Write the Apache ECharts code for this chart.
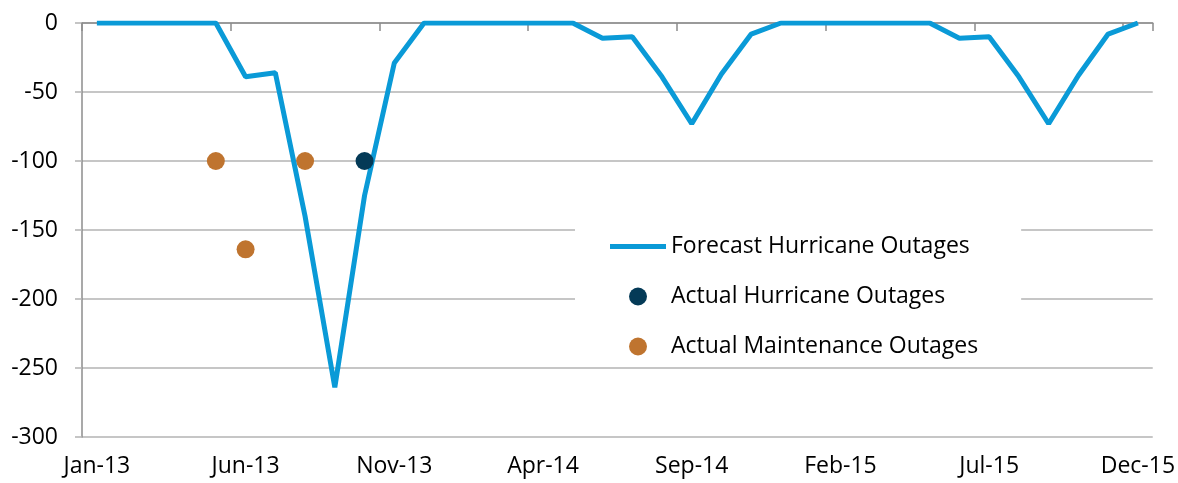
<!DOCTYPE html>
<html>
<head>
<meta charset="utf-8">
<script src="https://cdn.jsdelivr.net/npm/echarts@6/dist/echarts.min.js"></script>
<style>
  html, body { margin: 0; padding: 0; background: #fff; }
  #chart { width: 1178px; height: 483px; }
</style>
</head>
<body>
<div id="chart"></div>
<script>
// month categories
const months = [
  'Jan-13', 'Feb-13', 'Mar-13', 'Apr-13', 'May-13', 'Jun-13', 'Jul-13', 'Aug-13', 'Sep-13', 'Oct-13', 'Nov-13', 'Dec-13',
  'Jan-14', 'Feb-14', 'Mar-14', 'Apr-14', 'May-14', 'Jun-14', 'Jul-14', 'Aug-14', 'Sep-14', 'Oct-14', 'Nov-14', 'Dec-14',
  'Jan-15', 'Feb-15', 'Mar-15', 'Apr-15', 'May-15', 'Jun-15', 'Jul-15', 'Aug-15', 'Sep-15', 'Oct-15', 'Nov-15', 'Dec-15'
]

// forecast hurricane outages (line)
const forecastValues = [
  0, 0, 0, 0, 0, -39, -36, -140, -264, -125, -29, 0,
  0, 0, 0, 0, 0, -11, -10, -39, -73, -37, -8, 0,
  0, 0, 0, 0, 0, -11, -10, -39, -73, -38, -8, 0
]

// actual outages (dots)
const hurricaneMonths = ['Oct-13']
const hurricaneValues = [-100]
const maintenanceMonths = ['May-13', 'Jun-13', 'Aug-13']
const maintenanceValues = [-100, -164, -100]

const yTicks = { min: -300, max: 0, step: 50 }

const FONT = 'Open Sans'
const chart = echarts.init(document.getElementById('chart'))

const option = {
  animation: false,
  backgroundColor: '#fff',
  textStyle: { fontFamily: FONT },
  grid: { left: 82, right: 23, top: 23, bottom: 46 },
  legend: {
    orient: 'vertical',
    left: 575,
    top: 223,
    backgroundColor: '#fff',
    padding: [12, 43, 9, 35],
    itemWidth: 56,
    itemHeight: 18,
    itemGap: 27,
    textStyle: { fontFamily: FONT, fontSize: 23, color: '#000' },
    data: [
      { name: 'Forecast Hurricane Outages', icon: 'path://M0,0h56v5h-56z' },
      { name: 'Actual Hurricane Outages', icon: 'circle' },
      { name: 'Actual Maintenance Outages', icon: 'circle' }
    ]
  },
  xAxis: [
    {
      // axis line + ticks along the zero line (top)
      type: 'category',
      data: months,
      position: 'top',
      boundaryGap: true,
      axisLine: { onZero: false, lineStyle: { color: '#8c8c8c', width: 1.5 } },
      axisTick: { show: true, inside: true, interval: 4, length: 8, lineStyle: { color: '#8c8c8c', width: 1.5 } },
      axisLabel: { show: false },
      splitLine: { show: false }
    },
    {
      // labels at the bottom
      type: 'category',
      data: months,
      position: 'bottom',
      boundaryGap: true,
      axisLine: { show: false },
      axisTick: { show: false },
      axisLabel: { interval: 4, fontSize: 23, color: '#000', margin: 18, fontFamily: FONT },
      splitLine: { show: false }
    }
  ],
  yAxis: {
    type: 'value',
    min: yTicks.min,
    max: yTicks.max,
    interval: yTicks.step,
    axisLine: { show: true, lineStyle: { color: '#8c8c8c', width: 1.5 } },
    axisTick: { show: true, length: 7, lineStyle: { color: '#b3b3b3', width: 1.5 } },
    axisLabel: { fontSize: 23, color: '#000', margin: 24, fontFamily: FONT },
    splitLine: { lineStyle: { color: '#b3b3b3', width: 1.5 } }
  },
  series: [
    {
      name: 'Forecast Hurricane Outages',
      type: 'line',
      xAxisIndex: 0,
      data: forecastValues,
      symbol: 'none',
      lineStyle: { color: '#0a9ad7', width: 5 },
      itemStyle: { color: '#0a9ad7' },
      z: 3
    },
    {
      name: 'Actual Hurricane Outages',
      type: 'scatter',
      xAxisIndex: 0,
      data: hurricaneMonths.map((m, i) => [m, hurricaneValues[i]]),
      symbolSize: 18,
      itemStyle: { color: '#043a57', opacity: 1 },
      z: 4
    },
    {
      name: 'Actual Maintenance Outages',
      type: 'scatter',
      xAxisIndex: 0,
      data: maintenanceMonths.map((m, i) => [m, maintenanceValues[i]]),
      symbolSize: 18,
      itemStyle: { color: '#bf742f', opacity: 1 },
      z: 2
    }
  ]
}

chart.setOption(option)
</script>
</body>
</html>
